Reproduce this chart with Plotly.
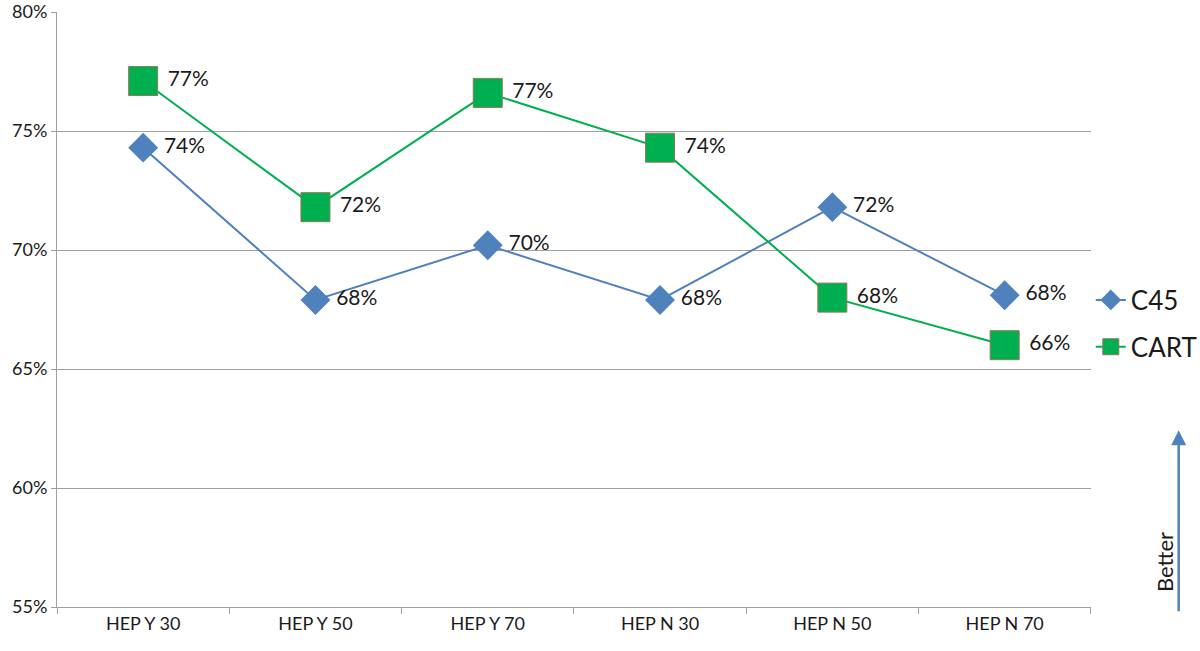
import plotly.graph_objects as go

categories = ["HEP Y 30", "HEP Y 50", "HEP Y 70", "HEP N 30", "HEP N 50", "HEP N 70"]
c45 = [0.743, 0.679, 0.702, 0.679, 0.718, 0.681]
cart = [0.771, 0.718, 0.766, 0.743, 0.680, 0.660]

font_family = "Lato, 'Open Sans', sans-serif"

fig = go.Figure()

fig.add_trace(go.Scatter(x=categories, y=c45, name="C45", mode="lines+markers+text",
                         legendgroup="c45",
                         line=dict(color="#4F81BD", width=2),
                         marker=dict(symbol="diamond", size=23, color="#4F81BD"),
                         texttemplate=" %{y:.0%}", textposition="middle right",
                         textfont=dict(size=21, color="#1a1a1a", family=font_family)))
fig.add_trace(go.Scatter(x=categories, y=cart, name="CART", mode="lines+markers+text",
                         legendgroup="cart",
                         line=dict(color="#00B050", width=2),
                         marker=dict(symbol="square", size=29, color="#00B050",
                                     line=dict(color="#8C7A55", width=1)),
                         texttemplate=" %{y:.0%}", textposition="middle right",
                         textfont=dict(size=21, color="#1a1a1a", family=font_family)))

# arrow + "Better" label on the right
fig.add_annotation(x=1.085, y=0.297, xref="paper", yref="paper", text=" ",
                   showarrow=True, ax=0, ay=190, arrowhead=2, arrowsize=1.2,
                   arrowwidth=2.5, arrowcolor="#4F81BD")
fig.add_annotation(x=1.0715, y=0.075, xref="paper", yref="paper", text="Better",
                   xanchor="center", yanchor="middle",
                   showarrow=False, textangle=-90,
                   font=dict(size=22, color="#1a1a1a", family=font_family))

fig.update_layout(
    width=1200, height=651,
    margin=dict(l=57, r=108, t=12, b=44),
    plot_bgcolor="white", paper_bgcolor="white",
    font=dict(family=font_family, color="#1a1a1a"),
    showlegend=True,
    legend=dict(xref="container", yref="container", x=0.909, y=0.503,
                xanchor="left", yanchor="middle",
                font=dict(size=26, family=font_family), itemwidth=30,
                tracegroupgap=10, bgcolor="rgba(0,0,0,0)"),
    xaxis=dict(type="category", range=[-0.5, 5.5], tickson="boundaries",
               ticks="outside", ticklen=6,
               tickcolor="#A0A0A0", showline=True, linecolor="#A0A0A0", linewidth=1,
               showgrid=False, tickfont=dict(size=18), automargin=False),
    yaxis=dict(range=[0.55, 0.80], dtick=0.05, tickformat=".0%", ticks="outside",
               ticklen=5, tickcolor="#A0A0A0", showline=True, linecolor="#A0A0A0",
               linewidth=1, showgrid=True, gridcolor="#A0A0A0", gridwidth=1,
               zeroline=False, tickfont=dict(size=18), automargin=False),
)

fig.write_html("out.html", config={"displayModeBar": False},
               post_script="document.body.style.margin='0';")
